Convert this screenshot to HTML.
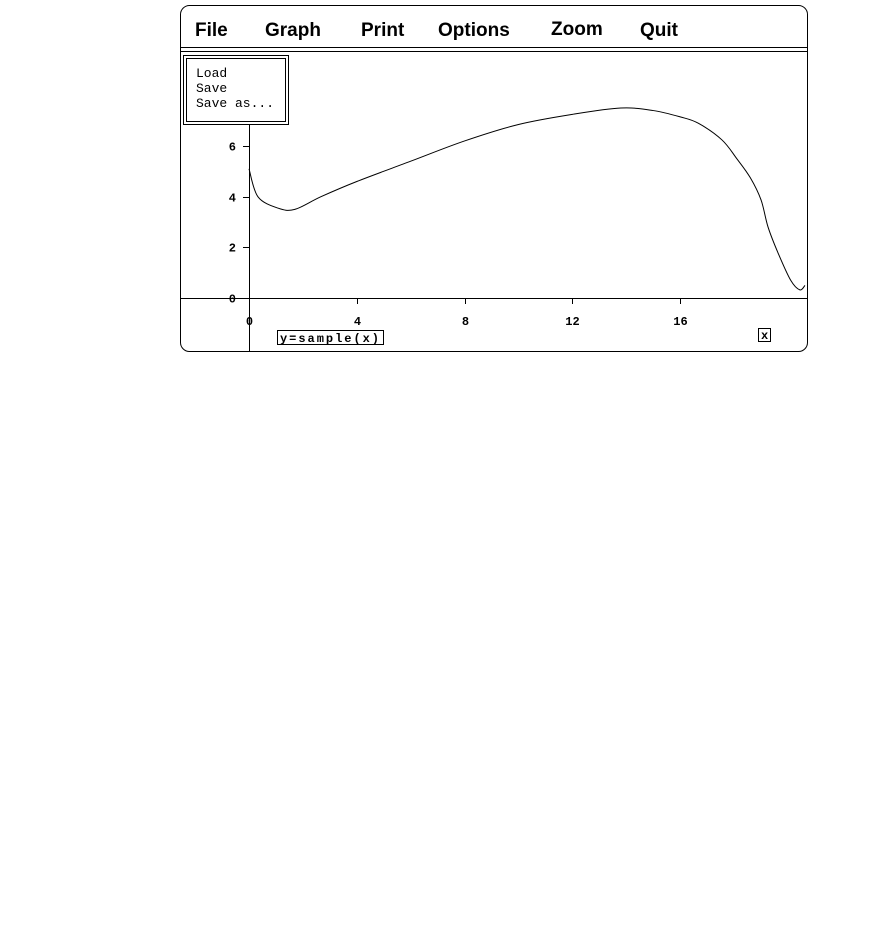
<!DOCTYPE html>
<html><head><meta charset="utf-8"><style>
body{margin:0;background:#fff;width:896px;height:945px;overflow:hidden}
svg{position:absolute;left:0;top:0}
.m{font-family:"Liberation Sans",sans-serif;font-weight:bold;font-size:19px}
.t{font-family:"Liberation Mono",monospace;font-weight:bold;font-size:12px}
.d{font-family:"Liberation Mono",monospace;font-size:13px}
</style></head><body>
<svg width="896" height="945">
<rect x="180.5" y="5.5" width="627" height="346" rx="9" fill="#fff" stroke="#000"/>
<line x1="180" y1="47.5" x2="807" y2="47.5" stroke="#000"/>
<line x1="180" y1="51.5" x2="807" y2="51.5" stroke="#000"/>
<text class="m" x="195" y="36">File</text>
<text class="m" x="265" y="36">Graph</text>
<text class="m" x="361" y="36">Print</text>
<text class="m" x="438" y="36">Options</text>
<text class="m" x="551" y="35">Zoom</text>
<text class="m" x="640" y="36">Quit</text>
<g id="plot"></g>
<g>
<rect x="183.5" y="55.5" width="105" height="69" fill="#fff" stroke="#000"/>
<rect x="186.5" y="58.5" width="99" height="63" fill="none" stroke="#000"/>
<text class="d" x="196" y="77">Load</text>
<text class="d" x="196" y="92">Save</text>
<text class="d" x="196" y="107">Save as...</text>
</g>
<rect x="277.5" y="330.5" width="106" height="14" fill="#fff" stroke="#000"/>
<text class="t" x="280" y="342" textLength="99">y=sample(x)</text>
<rect x="758.5" y="328.5" width="12" height="13" fill="#fff" stroke="#000"/>
<text class="t" x="761" y="339">x</text>
</svg>
<script>
const xTicks=[0,4,8,12,16];
const yTicks=[0,2,4,6];
const xs=[0,0.33,1.07,1.7,2.67,4,6,8,10,12,13.8,15,16,16.67,17.55,18.1,18.6,19,19.26,19.63,20.1,20.44,20.63];
const ys=[5.1,4.0,3.55,3.5,4.0,4.6,5.4,6.2,6.85,7.25,7.5,7.4,7.15,6.9,6.24,5.5,4.75,3.87,2.8,1.78,0.7,0.32,0.5];
const X=v=>249+v*26.95, Y=v=>298-v*25.33;
const g=document.getElementById('plot');const NS='http://www.w3.org/2000/svg';
function el(t,a){const e=document.createElementNS(NS,t);for(const k in a)e.setAttribute(k,a[k]);g.appendChild(e);return e;}
let e=el('line',{x1:180,y1:298.5,x2:807,y2:298.5,stroke:'#000'});


e=el('line',{x1:249.5,y1:124,x2:249.5,y2:351,stroke:'#000'});


xTicks.forEach(v=>{const x=Math.round(X(v))+0.5;
el('line',{x1:x,y1:298,x2:x,y2:304,stroke:'#000'});
const t=el('text',{x:x,y:325,'text-anchor':'middle',class:'t'});t.textContent=v;

});
yTicks.forEach(v=>{const y=Math.round(Y(v))+0.5;
el('line',{x1:243,y1:y,x2:249,y2:y,stroke:'#000'});
const t=el('text',{x:236,y:y+4,'text-anchor':'end',class:'t'});t.textContent=v;

});
const P=xs.map((v,i)=>[X(v),Y(ys[i])]);
let d='M'+P[0][0]+','+P[0][1];
for(let i=0;i<P.length-1;i++){const p0=P[Math.max(0,i-1)],p1=P[i],p2=P[i+1],p3=P[Math.min(P.length-1,i+2)];
d+=' C'+(p1[0]+(p2[0]-p0[0])/6)+','+(p1[1]+(p2[1]-p0[1])/6)+' '+(p2[0]-(p3[0]-p1[0])/6)+','+(p2[1]-(p3[1]-p1[1])/6)+' '+p2[0]+','+p2[1];}
e=el('path',{d:d,fill:'none',stroke:'#000','stroke-width':1});


</script>
</body></html>
